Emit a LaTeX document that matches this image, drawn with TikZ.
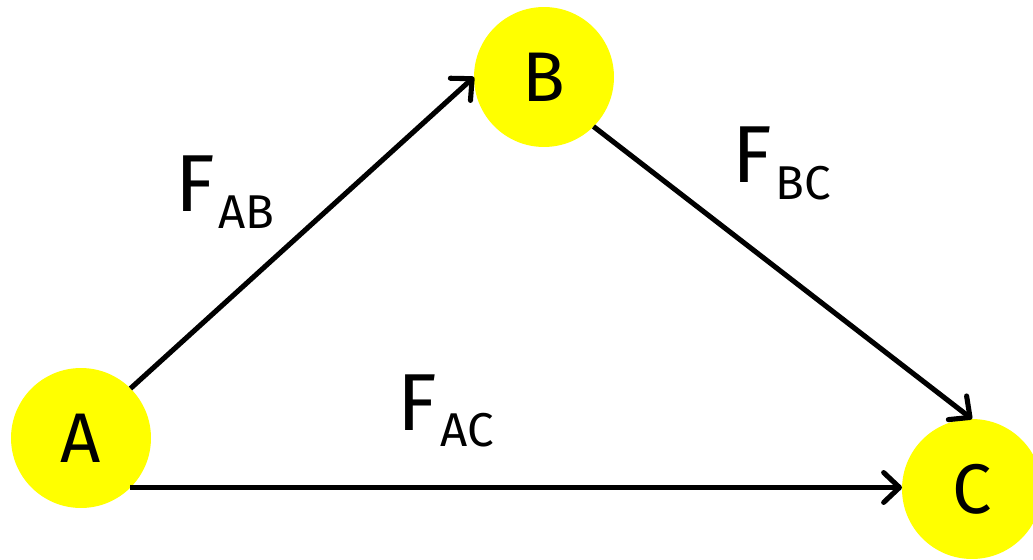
\documentclass[tikz,border=0pt]{standalone}
\usepackage{fontspec}
\setmainfont{Fira Sans}
\usetikzlibrary{arrows.meta, positioning}

\definecolor{amarillo}{RGB}{255,255,0}
\tikzset{
    estado/.style={circle, fill=amarillo, minimum size=2.8cm, inner sep=0pt, outer sep=0pt,
        font=\fontsize{40}{44}\selectfont},
    flecha/.style={-{Straight Barb[length=9pt,width=17pt,round]}, line width=2.9pt},
    etiqueta/.style={inner sep=0pt, anchor=base west, font=\fontsize{46}{50}\selectfont}
}
\newcommand{\flujo}[1]{F\kern2pt\raisebox{-0.33cm}{\fontsize{27}{30}\selectfont #1}}

\begin{document}
\begin{tikzpicture}[x=0.02cm, y=-0.02cm]
    \useasboundingbox (0,0) rectangle (1033,560);
    \clip (0,0) rectangle (1033,560);

    % Estados
    \node[estado] (A) at (81,438) {A};
    \node[estado] (B) at (544,77) {B};
    \node[estado] (C) at (972,489) {C};

    % Flujos
    \draw[flecha] (A.north east) -- (B.west);
    \draw[flecha] (B.south east) -- (C.north);
    \draw[flecha] (A.south east) -- (A.south east -| C.west);

    % Etiquetas
    \node[etiqueta] (fab) at (175,212) {\flujo{AB}};
    \node[etiqueta] (fbc) at (732,183) {\flujo{BC}};
    \node[etiqueta] (fac) at (397,430) {\flujo{AC}};
\end{tikzpicture}
\end{document}
